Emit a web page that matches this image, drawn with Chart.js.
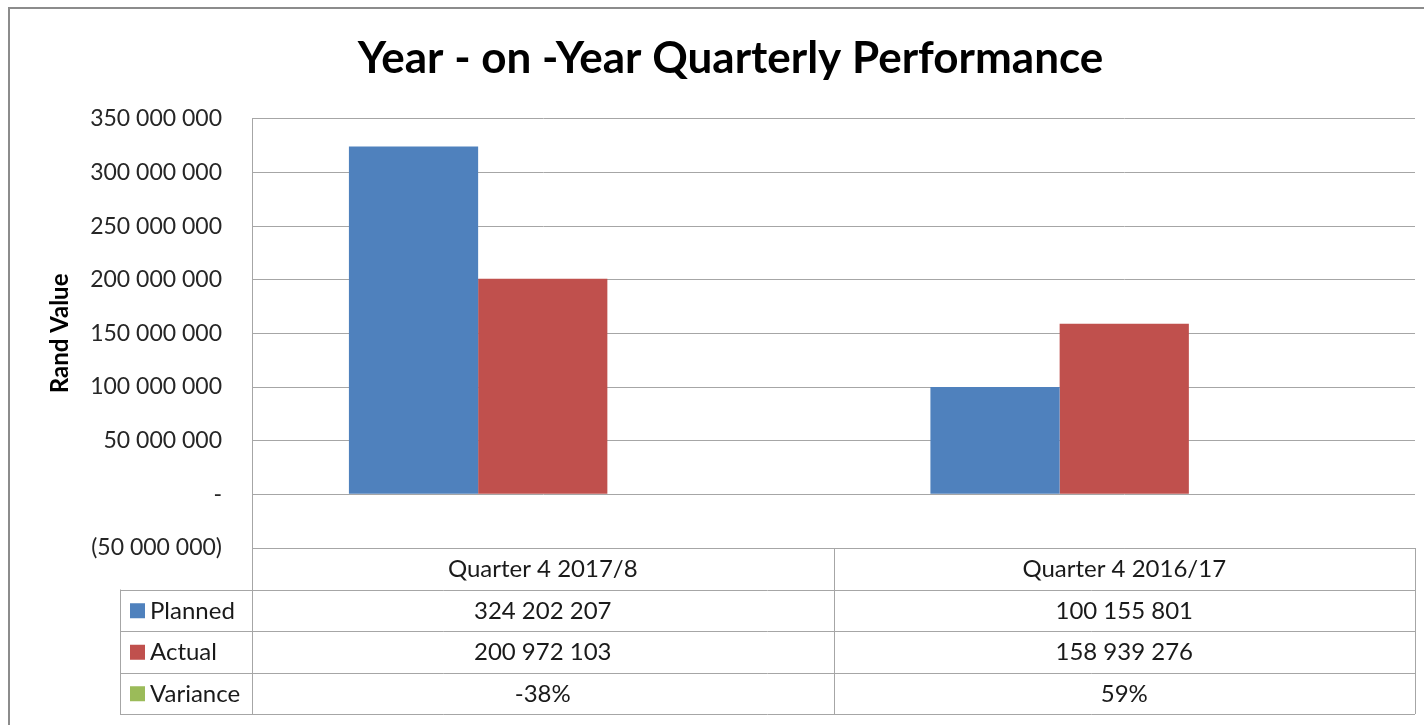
<!DOCTYPE html>
<html><head><meta charset="utf-8">
<script src="https://cdn.jsdelivr.net/npm/chart.js@4/dist/chart.umd.min.js"></script>
<style>html,body{margin:0;padding:0;background:#fff;overflow:hidden}#wrap{width:1424px;height:725px;position:relative}</style>
</head><body><div id="wrap"><canvas id="c" width="1424" height="725"></canvas></div>
<script>
const chartTitle = 'Year - on -Year Quarterly Performance';
const yAxisTitle = 'Rand Value';
const categories = ['Quarter 4 2017/8', 'Quarter 4 2016/17'];
const seriesNames = ['Planned', 'Actual', 'Variance'];
const planned = [324202207, 100155801];
const actual = [200972103, 158939276];
const variance = [-0.38, 0.59];
const yMin = -50000000, yMax = 350000000, yStep = 50000000;

const colors = ['#4F81BD', '#C0504D', '#9BBB59'];
const FONT = "Lato, 'Open Sans', sans-serif";

function fmtNum(v) {
  if (v === 0) return '-';
  const s = Math.abs(Math.round(v)).toString().replace(/\B(?=(\d{3})+(?!\d))/g, ' ');
  return v < 0 ? '(' + s + ')' : s;
}
function fmtPct(v) { return Math.round(v * 100) + '%'; }

const tableRows = [
  planned.map(fmtNum),
  actual.map(fmtNum),
  variance.map(fmtPct)
];

const frame = {
  id: 'frame',
  beforeDraw(chart) {
    const ctx = chart.ctx;
    ctx.save();
    ctx.fillStyle = '#fff';
    ctx.fillRect(0, 0, chart.width, chart.height);
    ctx.strokeStyle = '#8c8c8c';
    ctx.lineWidth = 2;
    ctx.strokeRect(9, 8, chart.width + 20, chart.height + 20);
    ctx.restore();
  }
};

const dataTable = {
  id: 'dataTable',
  afterDraw(chart) {
    const ctx = chart.ctx, a = chart.chartArea, xs = chart.scales.x;
    const n = categories.length;
    const bounds = [a.left];
    for (let i = 0; i < n - 1; i++) bounds.push((xs.getPixelForValue(i) + xs.getPixelForValue(i + 1)) / 2);
    bounds.push(a.right);
    const rowH = 41.5;
    const top = a.bottom;
    const legendLeft = 120;
    const bottom = top + rowH * 4;
    ctx.save();
    ctx.strokeStyle = '#a6a6a6';
    ctx.lineWidth = 1;
    const hl = (x1, x2, y) => { y = Math.round(y) + 0.5; ctx.beginPath(); ctx.moveTo(x1, y); ctx.lineTo(x2, y); ctx.stroke(); };
    const vl = (x, y1, y2) => { x = Math.round(x) + 0.5; ctx.beginPath(); ctx.moveTo(x, y1); ctx.lineTo(x, y2); ctx.stroke(); };
    hl(a.left, a.right, top);
    for (let r = 1; r <= 4; r++) hl(legendLeft, a.right, top + rowH * r);
    vl(legendLeft, top + rowH, bottom);
    bounds.forEach(b => vl(b, top, bottom));
    ctx.fillStyle = '#1a1a1a';
    ctx.font = '24px ' + FONT;
    ctx.textBaseline = 'middle';
    ctx.textAlign = 'center';
    for (let i = 0; i < n; i++) {
      const cx = (bounds[i] + bounds[i + 1]) / 2;
      ctx.fillText(categories[i], cx, top + rowH / 2 + 1);
      for (let r = 0; r < 3; r++) ctx.fillText(tableRows[r][i], cx, top + rowH * (r + 1.5) + 1);
    }
    ctx.textAlign = 'left';
    for (let r = 0; r < 3; r++) {
      const cy = top + rowH * (r + 1.5);
      ctx.fillStyle = colors[r];
      ctx.fillRect(130, cy - 7, 15, 15);
      ctx.fillStyle = '#1a1a1a';
      ctx.fillText(seriesNames[r], 150, cy + 1);
    }
    ctx.restore();
  }
};

// Variance values are fractions (a few tenths) and do not show as bars on this Rand scale.
const datasets = [planned, actual, variance].map((d, i) => ({
  label: seriesNames[i], data: d,
  backgroundColor: i === 2 ? 'rgba(155,187,89,0)' : colors[i], borderWidth: 0
}));

new Chart(document.getElementById('c'), {
  type: 'bar',
  data: { labels: categories, datasets },
  options: {
    responsive: false,
    animation: false,
    devicePixelRatio: 1,
    layout: { padding: { top: 0, left: 46, right: 9, bottom: 177 } },
    datasets: { bar: { categoryPercentage: 2 / 3, barPercentage: 1 } },
    plugins: {
      legend: { display: false },
      tooltip: { enabled: false },
      title: {
        display: true, text: chartTitle, color: '#000',
        font: { family: FONT, size: 44, weight: 'bold' },
        padding: { top: 32, bottom: 34 }
      }
    },
    scales: {
      x: { display: false },
      y: {
        min: yMin, max: yMax,
        afterFit(scale) { scale.width = 206; },
        ticks: { stepSize: yStep, padding: 30, color: '#262626', font: { family: FONT, size: 23 }, callback: v => fmtNum(v) },
        grid: { color: '#a6a6a6', lineWidth: 1, drawTicks: false },
        border: { display: true, color: '#a6a6a6' },
        title: { display: true, text: yAxisTitle, color: '#000', font: { family: FONT, size: 24, weight: 'bold' }, padding: 0 }
      }
    }
  },
  plugins: [frame, dataTable]
});
</script></body></html>
